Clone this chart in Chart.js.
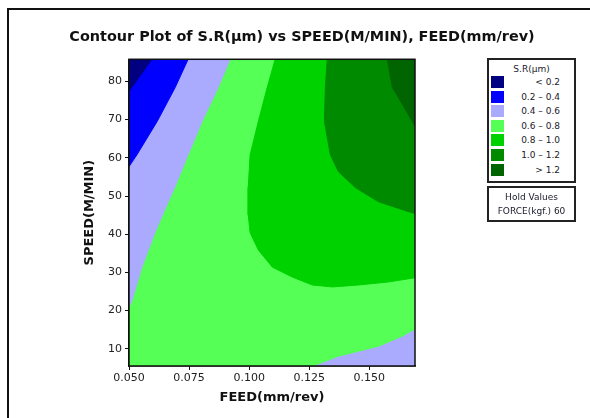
<!DOCTYPE html>
<html>
<head>
<meta charset="utf-8">
<script src="https://cdn.jsdelivr.net/npm/chart.js@4.4.1/dist/chart.umd.min.js"></script>
<style>
  body { margin: 0; background: #fff; }
  #wrap { position: relative; width: 590px; height: 418px; overflow: hidden; font-family: "DejaVu Sans", sans-serif; color: #1a1a2a; }
  #frame { position: absolute; left: 7px; top: 8px; right: -10px; bottom: -10px; border-left: 2px solid #111; border-top: 2px solid #111; }
  .box { position: absolute; border: 2px solid #222; background: #fff; }
  .lab { position: absolute; font-size: 9px; line-height: 10px; white-space: nowrap; }
  .sw { position: absolute; width: 13px; height: 12px; }
</style>
</head>
<body>
<div id="wrap">
  <div id="frame"></div>
  <canvas id="contour" width="590" height="418"></canvas>
  <div class="box" id="legend" style="left:487px; top:58px; width:85px; height:121px;"></div>
  <div class="box" id="hold" style="left:487px; top:186px; width:85px; height:32px;"></div>
</div>
<script>
// axis limits and ticks
const feedRange = [0.05, 0.169]
const speedRange = [5.5, 85.8]
const feedTicks = [0.05, 0.075, 0.1, 0.125, 0.15]
const speedTicks = [10, 20, 30, 40, 50, 60, 70, 80]

// contour levels of S.R(um)
const levels = ['< 0.2', '0.2 \u2013 0.4', '0.4 \u2013 0.6', '0.6 \u2013 0.8', '0.8 \u2013 1.0', '1.0 \u2013 1.2', '> 1.2']
const levelColors = ['#000080', '#0000ff', '#aaaaff', '#55ff55', '#00d200', '#008a00', '#006400']

// band outlines as [feed, speed]
const band06 = [[0.05, 5.5], [0.169, 5.5], [0.169, 85.8], [0.05, 85.8]]
const band04left = [[0.05, 20.9], [0.0513, 22.8], [0.0554, 31.4], [0.0608, 40.4], [0.0640, 45.1], [0.0667, 49.0],
    [0.0690, 52.2], [0.0746, 60.8], [0.0804, 69.5], [0.0871, 78.4], [0.0921, 85.8], [0.05, 85.8]]
const band04right = [[0.1275, 5.5], [0.1371, 7.8], [0.1538, 10.4], [0.1638, 13.1], [0.169, 14.9], [0.169, 5.5]]
const band02 = [[0.05, 57.7], [0.0533, 60.8], [0.0617, 69.5], [0.0692, 78.4], [0.0746, 85.8], [0.05, 85.8]]
const band00 = [[0.05, 77.4], [0.0595, 85.8], [0.05, 85.8]]
const band08 = [[0.1108, 85.8], [0.1075, 78.4], [0.1038, 69.5], [0.1004, 60.8], [0.0996, 52.2], [0.0996, 45.1],
    [0.1004, 40.4], [0.1038, 35.9], [0.1096, 31.4], [0.1179, 28.8], [0.1263, 26.7], [0.1346, 26.2],
    [0.1454, 26.7], [0.1579, 27.5], [0.169, 28.6], [0.169, 85.8]]
const band10 = [[0.1325, 85.8], [0.1317, 78.4], [0.1313, 69.5], [0.1338, 60.8], [0.1371, 56.4], [0.1442, 52.2],
    [0.1538, 48.5], [0.1663, 45.9], [0.169, 45.4], [0.169, 85.8]]
const band12 = [[0.1575, 85.8], [0.1596, 78.4], [0.1638, 74.0], [0.1679, 69.5], [0.169, 68.2], [0.169, 85.8]]

// paint order, bottom first: [outline, level index]
const bands = [[band06, 3], [band04left, 2], [band04right, 2], [band02, 1], [band00, 0], [band08, 4], [band10, 5], [band12, 6]]

let datasets = bands.map((b, i) => ({
    label: levels[b[1]],
    data: b[0].map(p => ({x: p[0], y: p[1]})),
    showLine: true,
    fill: 'shape',
    backgroundColor: levelColors[b[1]],
    borderColor: levelColors[b[1]],
    borderWidth: 1,
    pointRadius: 0,
    tension: 0,
    order: bands.length - i
}))

// black frame round the plot area
const plotFrame = {
    id: 'plotFrame',
    afterDatasetsDraw(chart) {
        const a = chart.chartArea, ctx = chart.ctx
        ctx.save()
        ctx.strokeStyle = '#111'
        ctx.lineWidth = 1.5
        ctx.strokeRect(a.left, a.top, a.right - a.left, a.bottom - a.top)
        ctx.restore()
    }
}

const tickFont = {family: 'DejaVu Sans', size: 11}
const axisFont = {family: 'DejaVu Sans', size: 13, weight: 'bold'}

new Chart(document.getElementById('contour'), {
    type: 'scatter',
    data: {datasets: datasets},
    plugins: [plotFrame],
    options: {
        responsive: false,
        animation: false,
        layout: {padding: {left: 14, right: 0, top: 0, bottom: 12}},
        plugins: {
            legend: {display: false},
            tooltip: {enabled: false},
            title: {
                display: true,
                text: 'Contour Plot of S.R(\u00b5m) vs SPEED(M/MIN), FEED(mm/rev)',
                color: '#111',
                font: {family: 'DejaVu Sans', size: 14.4, weight: 'bold'},
                padding: {top: 29, bottom: 13}
            }
        },
        scales: {
            x: {
                type: 'linear',
                min: feedRange[0],
                max: feedRange[1],
                afterBuildTicks: s => { s.ticks = feedTicks.map(v => ({value: v})) },
                afterFit: s => { s.height = 40 },
                ticks: {color: '#222', font: tickFont, padding: 2, maxRotation: 0, callback: v => v.toFixed(3)},
                grid: {drawOnChartArea: false, tickLength: 4, color: '#111'},
                border: {color: '#111', width: 1.5},
                title: {display: true, text: 'FEED(mm/rev)', color: '#111', font: axisFont, padding: {top: 0, bottom: 1}}
            },
            y: {
                type: 'linear',
                min: speedRange[0],
                max: speedRange[1],
                afterBuildTicks: s => { s.ticks = speedTicks.map(v => ({value: v})) },
                afterFit: s => { s.width = 115 },
                ticks: {color: '#222', font: tickFont, padding: 3},
                grid: {drawOnChartArea: false, tickLength: 4, color: '#111'},
                border: {color: '#111', width: 1.5},
                title: {display: true, text: 'SPEED(M/MIN)', color: '#111', font: axisFont, padding: {top: 68, bottom: 0}}
            },
            // empty axis that keeps the room for the legend boxes
            side: {
                position: 'right',
                afterFit: s => { s.width = 175 },
                ticks: {display: false},
                grid: {display: false},
                border: {display: false}
            }
        }
    }
})

// legend boxes on the right
const legend = document.getElementById('legend')
legend.innerHTML = '<div class="lab" style="left:0;width:85px;top:4px;text-align:center">S.R(\u00b5m)</div>'
levels.forEach((t, i) => {
    const top = 16 + i * 14.6
    legend.innerHTML += '<div class="sw" style="left:2px;top:' + top + 'px;background:' + levelColors[i] + '"></div>' +
        '<div class="lab" style="right:14px;top:' + (top + 1) + 'px;text-align:right">' + t + '</div>'
})
document.getElementById('hold').innerHTML =
    '<div class="lab" style="left:0;width:85px;top:4px;text-align:center">Hold Values</div>' +
    '<div class="lab" style="left:0;width:85px;top:18px;text-align:center">FORCE(kgf.) 60</div>'
</script>
</body>
</html>
